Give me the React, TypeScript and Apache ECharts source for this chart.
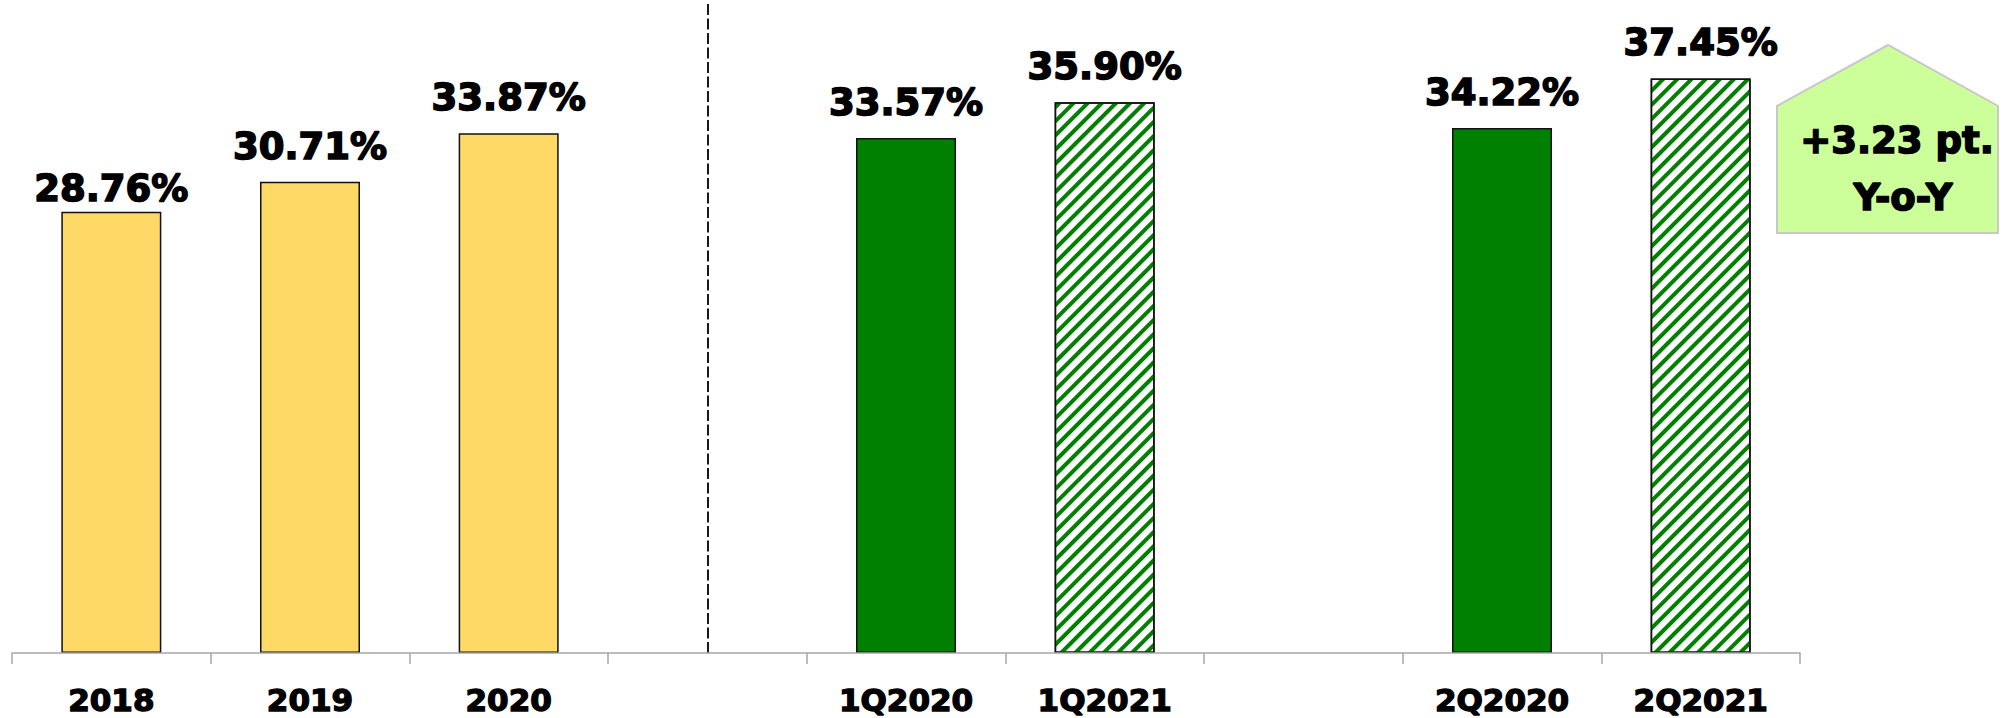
import React, { useEffect, useRef } from 'react';
import * as echarts from 'echarts';

const categories = ['2018', '2019', '2020', ' ', '1Q2020', '1Q2021', '  ', '2Q2020', '2Q2021'];
const annualValues = [28.76, 30.71, 33.87, null, null, null, null, null, null];
const priorQuarterValues = [null, null, null, null, 33.57, null, null, 34.22, null];
const currentQuarterValues = [null, null, null, null, null, 35.9, null, null, 37.45];
const calloutLines = ['+3.23 pt.', 'Y-o-Y'];
const separatorIndex = 3;

const FONT = 'DejaVu Sans';

export default function App() {
  const ref = useRef<HTMLDivElement>(null);

  useEffect(() => {
    if (!ref.current) return;
    const chart = echarts.init(ref.current, null, { renderer: 'svg' });

    const valueLabel = {
      show: true,
      position: 'top',
      distance: 17,
      color: '#000',
      fontFamily: FONT,
      fontWeight: 'bold',
      fontSize: 37,
      lineHeight: 37,
      textBorderColor: '#000',
      textBorderWidth: 1.6,
      formatter: (p: any) => (typeof p.value === 'number' ? p.value.toFixed(2) + '%' : ''),
    };

    const border = { borderColor: '#111', borderWidth: 1.5 };

    chart.setOption({
      animation: false,
      grid: { left: 12, right: 206, top: 4, bottom: 65, containLabel: false },
      xAxis: {
        type: 'category',
        data: categories,
        z: 5,
        axisLine: { show: true, lineStyle: { color: '#a6a6a6', width: 1.5 } },
        axisTick: { show: true, length: 11, interval: 0, lineStyle: { color: '#a6a6a6', width: 1.5 } },
        axisLabel: {
          interval: 0,
          margin: 31,
          color: '#000',
          fontFamily: FONT,
          fontWeight: 'bold',
          fontSize: 31,
          textBorderColor: '#000',
          textBorderWidth: 1.4,
        },
        splitLine: { show: false },
      },
      yAxis: { type: 'value', min: 0, max: 42.3, show: false, splitLine: { show: false } },
      series: [
        {
          name: 'Annual',
          type: 'bar',
          barWidth: 100,
          barGap: '-100%',
          data: annualValues.map((v, i) => (i === 0 && v !== null ? { value: v, label: { distance: 5 } } : v)),
          itemStyle: { color: '#FFD966', ...border },
          label: valueLabel,
          markLine: {
            silent: true,
            symbol: ['none', 'none'],
            label: { show: false },
            lineStyle: { color: '#000', width: 1.8, type: [11, 3.5] },
            data: [{ xAxis: separatorIndex }],
          },
        },
        {
          name: 'Prior-year quarter',
          type: 'bar',
          barWidth: 100,
          barGap: '-100%',
          data: priorQuarterValues,
          itemStyle: { color: '#008000', ...border },
          label: valueLabel,
        },
        {
          name: 'Current quarter',
          type: 'bar',
          barWidth: 100,
          barGap: '-100%',
          data: currentQuarterValues,
          itemStyle: {
            color: '#ffffff',
            ...border,
            decal: {
              symbol: 'rect',
              symbolSize: 1,
              dashArrayX: [1, 0],
              dashArrayY: [4, 6],
              rotation: -Math.PI / 4,
              color: '#008000',
            },
          },
          label: valueLabel,
        },
      ],
      graphic: [
        {
          type: 'polygon',
          shape: { points: [[1777, 106], [1888, 45], [1998, 106], [1998, 233], [1777, 233]] },
          style: { fill: '#ccff99', stroke: '#c8c8c8', lineWidth: 2 },
          z: 10,
        },
        {
          type: 'text',
          x: 1897,
          y: 140,
          z: 11,
          style: {
            text: calloutLines[0],
            fill: '#000',
            stroke: '#000',
            lineWidth: 1.6,
            font: `bold 37px "${FONT}"`,
            textAlign: 'center',
            textVerticalAlign: 'middle',
          },
        },
        {
          type: 'text',
          x: 1903,
          y: 197,
          z: 11,
          style: {
            text: calloutLines[1],
            fill: '#000',
            stroke: '#000',
            lineWidth: 1.6,
            font: `bold 37px "${FONT}"`,
            textAlign: 'center',
            textVerticalAlign: 'middle',
          },
        },
      ],
    });

    return () => chart.dispose();
  }, []);

  return (
    <div
      ref={ref}
      style={{ position: 'absolute', left: 0, top: 0, width: 2006, height: 718 }}
    />
  );
}
